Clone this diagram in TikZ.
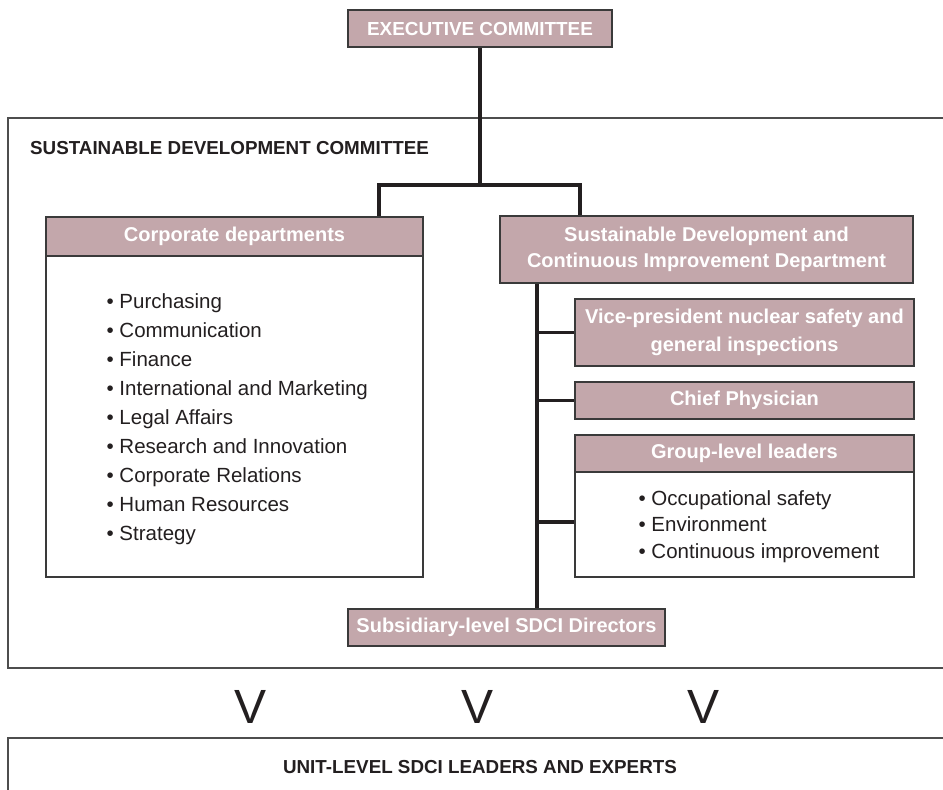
\documentclass[tikz,border=0pt]{standalone}
\usepackage{fontspec}
\setmainfont{Liberation Sans}
\definecolor{mauve}{HTML}{C3A7AB}
\definecolor{boxline}{HTML}{3A3A3A}
\definecolor{ink}{HTML}{231F20}
\definecolor{framegray}{HTML}{4D4D4D}
\begin{document}
\begin{tikzpicture}[x=1pt,y=-1pt,
  hdr/.style={draw=boxline, line width=1.3pt, fill=mauve, text=white,
    font=\bfseries\fontsize{20}{26}\selectfont, align=center,
    inner sep=0pt, minimum height=37pt},
  body/.style={draw=boxline, line width=1.3pt, fill=white, inner sep=0pt},
  link/.style={line width=3.5pt, draw=ink},
  frame/.style={draw=framegray, line width=1.3pt},
  item/.style={font=\fontsize{20.5}{24}\selectfont, text=ink,
    anchor=base west, inner sep=0pt},
  title/.style={font=\bfseries\fontsize{18.8}{22}\selectfont, text=ink, inner sep=0pt},
  chevron/.style={font=\fontsize{48}{50}\selectfont, text=ink, inner sep=0pt}
]
\useasboundingbox[fill=white] (0,0) rectangle (943,790);

% committee frames
\draw[frame] (943,118) -- (8,118) -- (8,668) -- (943,668);
\draw[frame] (943,738) -- (8,738) -- (8,790);
\node[title, anchor=west] (sdc) at (30,148) {SUSTAINABLE DEVELOPMENT COMMITTEE};
\node[title] (unit) at (480,767) {UNIT-LEVEL SDCI LEADERS AND EXPERTS};

% top of the hierarchy
\node[hdr, minimum width=264pt, font=\bfseries\fontsize{18.9}{22}\selectfont]
  (exec) at (480,28.5) {EXECUTIVE COMMITTEE};

% corporate departments
\node[body, minimum width=377pt, minimum height=321pt] (corpb) at (234.5,416.5) {};
\node[hdr, minimum width=377pt, minimum height=39pt] (corph) at (234.5,236.5) {Corporate departments};
\foreach \t [count=\i from 0] in {Purchasing, Communication, Finance,
    International and Marketing, Legal Affairs, Research and Innovation,
    Corporate Relations, Human Resources, Strategy}
  \node[item] (c\i) at (106.4,{308+29.1*\i}) {• \t};

% SDCI department and its units
\node[hdr, minimum width=413pt, minimum height=67pt] (sdci) at (706.5,249.5)
  {Sustainable Development and\\Continuous Improvement Department};
\node[hdr, minimum width=339pt, minimum height=67pt,
  font=\bfseries\fontsize{20}{28}\selectfont] (vp) at (744.5,332.5)
  {Vice-president nuclear safety and\\general inspections};
\node[hdr, minimum width=339pt] (chief) at (744.5,400.5) {Chief Physician};
\node[body, minimum width=339pt, minimum height=105pt] (grpb) at (744.5,524.5) {};
\node[hdr, minimum width=339pt] (grph) at (744.5,453.5) {Group-level leaders};
\foreach \t [count=\i from 0] in {Occupational safety, Environment, Continuous improvement}
  \node[item] (g\i) at (638.4,{505+26.5*\i}) {• \t};
\node[hdr, minimum width=317pt] (subs) at (506.5,627.5) {Subsidiary-level SDCI Directors};

% connectors
\coordinate (split) at (480,185);
\coordinate (lbr) at (379,185);
\coordinate (rbr) at (580,185);
\coordinate (spine) at (537,283);
\draw[link] (exec.south) -- (split);
\draw[link, line cap=rect] (lbr) -- (rbr);
\draw[link] (lbr) -- (lbr |- corph.north);
\draw[link] (rbr) -- (rbr |- sdci.north);
\draw[link] (spine |- sdci.south) -- (spine |- subs.north);
\draw[link] (spine |- vp.west) -- (vp.west);
\draw[link] (spine |- chief.west) -- (chief.west);
\draw[link] (spine |- 0,522) -- (grpb.west |- 0,522);

% downward chevrons between the two levels
\node[chevron] (v1) at (251,707) {V};
\node[chevron] (v2) at (478,707) {V};
\node[chevron] (v3) at (704,707) {V};
\end{tikzpicture}
\end{document}
